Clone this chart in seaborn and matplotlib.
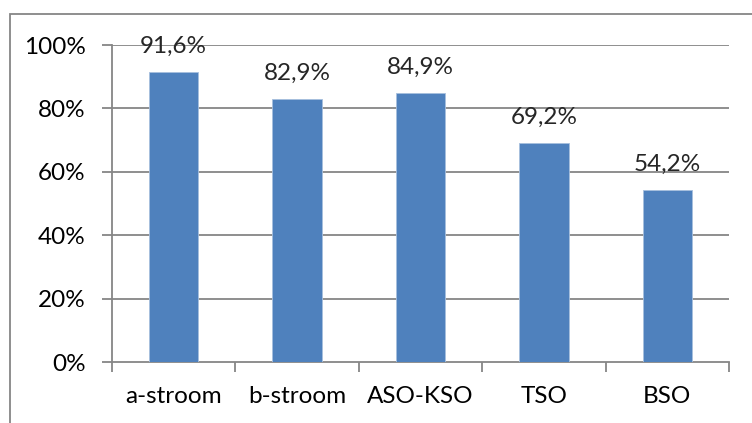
import matplotlib
matplotlib.use("Agg")
import matplotlib.pyplot as plt
import matplotlib.patches as mpatches
import seaborn as sns
import pandas as pd
import numpy as np

categories = ["a-stroom", "b-stroom", "ASO-KSO", "TSO", "BSO"]
values = [91.6, 82.9, 84.9, 69.2, 54.2]
yticks = [0, 20, 40, 60, 80, 100]

df = pd.DataFrame({"groep": categories, "percentage": values})

sns.set_theme(style="white")
plt.rcParams["font.family"] = ["Lato", "DejaVu Sans"]

fig = plt.figure(figsize=(7.52, 4.23), dpi=100)
ax = fig.add_axes([112 / 752, 1 - 362 / 423, (729 - 112) / 752, (362 - 45) / 423])

sns.barplot(data=df, x="groep", y="percentage", color="#4F81BD", width=0.4,
            saturation=1, ax=ax, edgecolor="#A7BFDE", linewidth=0.6, zorder=3)

grid_col = "#868686"
fs = 17.5
ax.set_ylim(0, 100)
ax.set_xlim(-0.5, len(categories) - 0.5)
ax.set_yticks(yticks)
ax.set_yticklabels([f"{t}%" for t in yticks])
for t in yticks[1:]:
    ax.axhline(t, color=grid_col, lw=1.3, zorder=1)

for s in ["top", "right"]:
    ax.spines[s].set_visible(False)
for s in ["left", "bottom"]:
    ax.spines[s].set_color(grid_col)
    ax.spines[s].set_linewidth(1.3)

# x ticks sit on the category boundaries
ax.set_xticks(np.arange(-0.5, len(categories)), minor=False)
ax.set_xticklabels([])
ax.set_xticks(np.arange(len(categories)), minor=True)
ax.set_xticklabels(categories, minor=True)
ax.tick_params(axis="x", which="major", length=7, width=1.3, color=grid_col, direction="out", bottom=True)
ax.tick_params(axis="x", which="minor", length=0, labelsize=fs, pad=17, colors="black")
ax.tick_params(axis="y", length=7, width=1.3, color=grid_col, direction="out", left=True,
               labelsize=fs, pad=12, labelcolor="black")
ax.set_xlabel("")
ax.set_ylabel("")

for i, v in enumerate(values):
    ax.annotate(f"{v:.1f}%".replace(".", ","), (i, v), xytext=(0, 11),
                textcoords="offset points", ha="center", va="bottom", fontsize=fs, zorder=5)

# chart frame
fig.patches.append(mpatches.Rectangle((10 / 752, -0.1), 1.2, 1 - 14 / 423 + 0.1,
                                      transform=fig.transFigure, fill=False,
                                      edgecolor=grid_col, lw=1.3))

fig.savefig("out.png", dpi=100)
